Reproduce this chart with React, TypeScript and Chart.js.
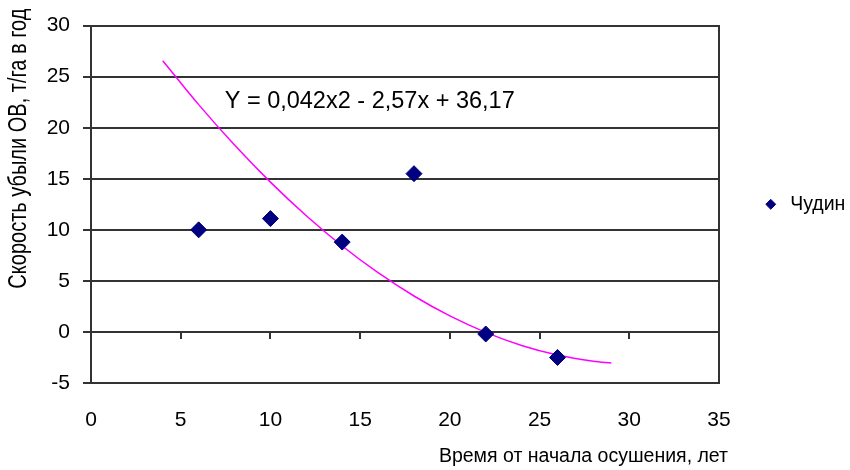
import React, { useEffect, useRef } from "react";
import { Chart, registerables } from "chart.js";

Chart.register(...registerables);

// ---- data ----
const SERIES_NAME = "Чудин";
const YEARS = [6, 10, 14, 18, 22, 26];
const LOSS_RATE = [10, 11.1, 8.8, 15.5, -0.2, -2.5];

// polynomial trend line
const TREND_X = [4, 6, 8, 10, 12, 14, 16, 18, 20, 22, 24, 26, 28, 29];
const TREND_Y = [26.56, 22.26, 18.3, 14.67, 11.38, 8.42, 5.8, 3.52, 1.57, -0.04, -1.32, -2.26, -2.86, -3.04];

const X_TICKS = [0, 5, 10, 15, 20, 25, 30, 35];
const Y_TICKS = [-5, 0, 5, 10, 15, 20, 25, 30];

const EQUATION = "Y = 0,042x2 - 2,57x + 36,17";
const EQUATION_AT = { x: 7.45, y: 22.6 };
const Y_TITLE = "Скорость убыли ОВ, т/га в год";
const X_TITLE = "Время от начала осушения, лет";

// ---- styles ----
const FONT = "'Liberation Sans', Arial, sans-serif";
const LINE = "#333333";
const MARKER = "#000080";
const TREND = "#FF00FF";

const textPlugin = {
  id: "chartTexts",
  afterDatasetsDraw(chart: any) {
    const { ctx, chartArea, scales } = chart;
    ctx.save();
    ctx.fillStyle = "#000";
    // trend equation
    ctx.font = `23.5px ${FONT}`;
    ctx.textAlign = "left";
    ctx.textBaseline = "middle";
    ctx.fillText(
      EQUATION,
      scales.x.getPixelForValue(EQUATION_AT.x),
      scales.y.getPixelForValue(EQUATION_AT.y)
    );
    // x axis title
    ctx.font = `19.5px ${FONT}`;
    ctx.textAlign = "right";
    ctx.fillText(X_TITLE, chartArea.right + 9, chartArea.bottom + 74);
    // y axis title (tall, condensed look of the original)
    ctx.translate(chartArea.left - 72, chartArea.top - 17);
    ctx.rotate(-Math.PI / 2);
    ctx.scale(1, 1.25);
    ctx.font = `20px ${FONT}`;
    ctx.textAlign = "right";
    ctx.fillText(Y_TITLE, 0, 0);
    ctx.restore();
  },
};

export default function App() {
  const ref = useRef<HTMLCanvasElement | null>(null);

  useEffect(() => {
    if (!ref.current) return;
    const tickFont = { family: FONT, size: 21 };
    const chart = new Chart(ref.current, {
      type: "scatter",
      data: {
        datasets: [
          {
            type: "scatter",
            label: SERIES_NAME,
            data: YEARS.map((x, i) => ({ x, y: LOSS_RATE[i] })),
            pointStyle: "rectRot",
            pointRadius: 8,
            pointHoverRadius: 8,
            backgroundColor: MARKER,
            borderColor: MARKER,
            borderWidth: 1,
            order: 1,
            xAxisID: "x",
            yAxisID: "y",
          },
          {
            type: "line",
            label: "trend",
            data: TREND_X.map((x, i) => ({ x, y: TREND_Y[i] })),
            borderColor: TREND,
            borderWidth: 1.5,
            pointRadius: 0,
            cubicInterpolationMode: "monotone",
            fill: false,
            order: 2,
            xAxisID: "x",
            yAxisID: "y",
          },
        ],
      } as any,
      options: {
        animation: false,
        responsive: true,
        maintainAspectRatio: false,
        events: [],
        layout: { padding: { top: 25, right: 2, bottom: 0, left: 0 } },
        scales: {
          x: {
            type: "linear",
            position: "bottom",
            min: X_TICKS[0],
            max: X_TICKS[X_TICKS.length - 1],
            afterBuildTicks: (s: any) => {
              s.ticks = X_TICKS.map((v) => ({ value: v }));
            },
            afterFit: (s: any) => {
              s.height = 87;
            },
            grid: { display: false, drawTicks: false },
            border: { display: true, color: LINE, width: 2 },
            ticks: { font: tickFont, color: "#000", padding: 25, maxRotation: 0 },
          },
          xZero: {
            type: "linear",
            axis: "x",
            position: { y: 0 },
            min: X_TICKS[0],
            max: X_TICKS[X_TICKS.length - 1],
            afterBuildTicks: (s: any) => {
              s.ticks = X_TICKS.map((v) => ({ value: v }));
            },
            grid: {
              display: true,
              drawOnChartArea: false,
              drawTicks: true,
              tickLength: 7,
              color: LINE,
              lineWidth: 2,
            },
            border: { display: false },
            ticks: { display: false },
          },
          y: {
            type: "linear",
            position: "left",
            min: Y_TICKS[0],
            max: Y_TICKS[Y_TICKS.length - 1],
            afterBuildTicks: (s: any) => {
              s.ticks = Y_TICKS.map((v) => ({ value: v }));
            },
            afterFit: (s: any) => {
              s.width = 91;
            },
            grid: { color: LINE, lineWidth: 2, tickLength: 8, drawTicks: true },
            border: { display: true, color: LINE, width: 2 },
            ticks: { font: tickFont, color: "#000", padding: 13 },
          },
          y2: {
            type: "linear",
            position: "right",
            display: true,
            grid: { display: false, drawTicks: false },
            border: { display: true, color: LINE, width: 2 },
            ticks: { display: false },
            afterFit: (s: any) => {
              s.width = 0;
            },
          },
        } as any,
        plugins: {
          tooltip: { enabled: false },
          legend: {
            position: "right",
            fullSize: false,
            maxWidth: 129,
            labels: {
              usePointStyle: true,
              boxHeight: 7,
              boxWidth: 20,
              padding: 42,
              color: "#000",
              font: { family: FONT, size: 19.5 },
              filter: (item: any) => item.text === SERIES_NAME,
            },
          },
        },
      } as any,
      plugins: [textPlugin],
    });
    return () => chart.destroy();
  }, []);

  return (
    <div
      style={{
        position: "fixed",
        left: 0,
        top: 0,
        width: 850,
        height: 470,
        background: "#fff",
      }}
    >
      <canvas ref={ref} />
    </div>
  );
}
